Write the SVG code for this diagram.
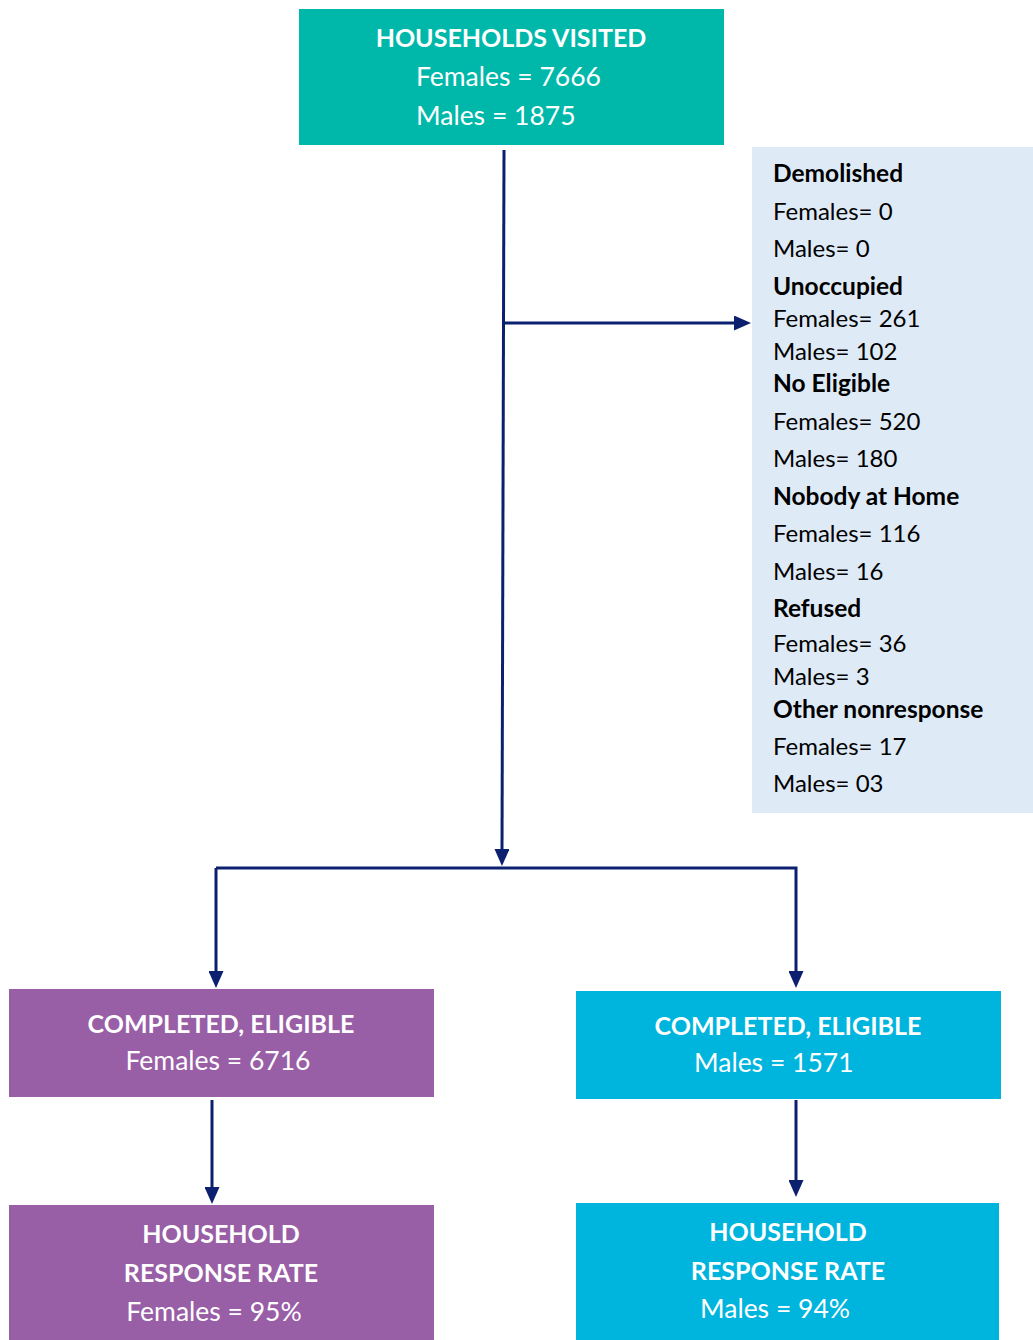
<svg xmlns="http://www.w3.org/2000/svg" width="1033" height="1340" viewBox="0 0 1033 1340">
<style>
.t{font-family:Lato,"Open Sans","Liberation Sans",sans-serif;font-size:26.5px;fill:#fff}
.b{font-weight:bold;font-size:25px}
.s{font-family:Lato,"Open Sans","Liberation Sans",sans-serif;font-size:24px;fill:#000}
.sb{font-weight:bold;font-size:24.5px}
.c{fill:none;stroke:#0B2170;stroke-width:3}
</style>
<defs>
<marker id="ah" markerWidth="17" markerHeight="15" refX="1" refY="7.5" orient="auto" markerUnits="userSpaceOnUse" viewBox="0 0 17 15">
<path d="M0,0 L17,7.5 L0,15 Z" fill="#0B2170"/>
</marker>
</defs>
<rect width="1033" height="1340" fill="#fff"/>
<g id="visited">
<rect x="299" y="9" width="425" height="136" fill="#00B8A9"/>
<text class="t b" x="511" y="47" text-anchor="middle">HOUSEHOLDS VISITED</text>
<text class="t" x="416" y="86">Females = 7666</text>
<text class="t" x="416" y="125">Males = 1875</text>
</g>
<g id="nonresponse">
<rect x="752" y="147" width="281" height="666" fill="#DEEAF6"/>
<text class="s sb" x="773" y="182">Demolished</text>
<text class="s" x="773" y="220">Females= 0</text>
<text class="s" x="773" y="257">Males= 0</text>
<text class="s sb" x="773" y="295">Unoccupied</text>
<text class="s" x="773" y="327">Females= 261</text>
<text class="s" x="773" y="360">Males= 102</text>
<text class="s sb" x="773" y="392">No Eligible</text>
<text class="s" x="773" y="430">Females= 520</text>
<text class="s" x="773" y="467">Males= 180</text>
<text class="s sb" x="773" y="505">Nobody at Home</text>
<text class="s" x="773" y="542">Females= 116</text>
<text class="s" x="773" y="580">Males= 16</text>
<text class="s sb" x="773" y="617">Refused</text>
<text class="s" x="773" y="652">Females= 36</text>
<text class="s" x="773" y="685">Males= 3</text>
<text class="s sb" x="773" y="718">Other nonresponse</text>
<text class="s" x="773" y="755">Females= 17</text>
<text class="s" x="773" y="792">Males= 03</text>
</g>
<g id="completed-f">
<rect x="9" y="989" width="425" height="108" fill="#985EA6"/>
<text class="t b" x="221" y="1033" text-anchor="middle">COMPLETED, ELIGIBLE</text>
<text class="t" x="218" y="1070" text-anchor="middle">Females = 6716</text>
</g>
<g id="completed-m">
<rect x="576" y="991" width="425" height="108" fill="#00B5DD"/>
<text class="t b" x="788" y="1035" text-anchor="middle">COMPLETED, ELIGIBLE</text>
<text class="t" x="694" y="1072">Males = 1571</text>
</g>
<g id="rate-f">
<rect x="9" y="1205" width="425" height="135" fill="#985EA6"/>
<text class="t b" x="221" y="1243" text-anchor="middle">HOUSEHOLD</text>
<text class="t b" x="221" y="1282" text-anchor="middle">RESPONSE RATE</text>
<text class="t" x="214" y="1321" text-anchor="middle">Females = 95%</text>
</g>
<g id="rate-m">
<rect x="576" y="1203" width="423" height="137" fill="#00B5DD"/>
<text class="t b" x="788" y="1241" text-anchor="middle">HOUSEHOLD</text>
<text class="t b" x="788" y="1280" text-anchor="middle">RESPONSE RATE</text>
<text class="t" x="700" y="1318">Males = 94%</text>
</g>
<g id="connectors">
<path class="c" d="M504,150 L502,850" marker-end="url(#ah)"/>
<path class="c" d="M504,323 L735,323" marker-end="url(#ah)"/>
<path class="c" d="M216,868 L796,868 L796,972" marker-end="url(#ah)"/>
<path class="c" d="M216,868 L216,972" marker-end="url(#ah)"/>
<path class="c" d="M212,1100 L212,1188" marker-end="url(#ah)"/>
<path class="c" d="M796,1100 L796,1181" marker-end="url(#ah)"/>
</g>
</svg>
